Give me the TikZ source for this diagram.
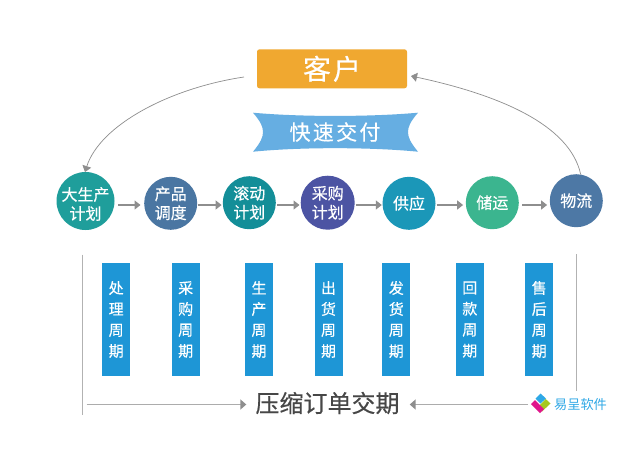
\documentclass[tikz,border=0pt]{standalone}
\usepackage{fontspec}
\setmainfont{Noto Sans CJK SC}[FakeBold=0.35]
\newfontfamily\thinfont{Noto Sans CJK SC}
\usetikzlibrary{arrows.meta,calc}
\definecolor{cgray}{HTML}{8E8E8E}
\definecolor{barblue}{HTML}{1E96D6}
\definecolor{custor}{HTML}{F0A830}
\definecolor{ribb}{HTML}{66AEE2}
\definecolor{c1}{HTML}{1F9E9B}\definecolor{c2}{HTML}{4A76A2}\definecolor{c3}{HTML}{138E98}
\definecolor{c4}{HTML}{4C54A3}\definecolor{c5}{HTML}{1B97B8}\definecolor{c6}{HTML}{3BB58F}\definecolor{c7}{HTML}{4D78A5}
\definecolor{logoblue}{HTML}{2FA8E6}
\definecolor{logomag}{HTML}{E0168C}
\definecolor{logogreen}{HTML}{A5C81E}
\tikzset{
  x=1pt,y=-1pt,
  stage/.style={circle,inner sep=0pt,text=white,align=center,font=\fontsize{16}{19}\selectfont},
  period/.style={rectangle,fill=barblue,inner sep=0pt,minimum width=28pt,minimum height=112.5pt,text=white,align=center,font=\fontsize{15}{21}\selectfont},
  flow/.style={draw=cgray,line width=1.3pt,-{Triangle[length=6pt,width=9pt]}},
  loop/.style={draw=cgray,line width=0.7pt,-{Triangle[length=6pt,width=9pt]}},
  span/.style={draw=gray!65,line width=1.6pt,-{Triangle[length=6pt,width=10pt,color=cgray]}},
  rule/.style={draw=gray!60,line width=1.1pt},
}
\begin{document}
\begin{tikzpicture}
\useasboundingbox (0,0) rectangle (644,451);
\fill[white] (0,0) rectangle (644,451);
% customer
\node[rectangle,rounded corners=2.5pt,fill=custor,text=white,minimum width=150pt,minimum height=39pt,inner sep=0pt,font=\fontsize{28}{30}\selectfont] (cust) at (332,68.8) {客\hspace{2pt}户};
% ribbon
\fill[ribb] (253,112.7) .. controls (300,117) and (370,117) .. (418,112.7)
  .. controls (410,122) and (408,127) .. (408,132)
  .. controls (408,137) and (410,142) .. (418,151.7)
  .. controls (370,147) and (300,147) .. (253,151.7)
  .. controls (261,142) and (263,137) .. (263,132)
  .. controls (263,127) and (261,122) .. (253,112.7) -- cycle;
\node[text=white,inner sep=0pt,font=\fontsize{21}{24}\selectfont] (ribbon) at (335,132) {快\hspace{2.3pt}速\hspace{2.3pt}交\hspace{2.3pt}付};
% stages
\node[stage,fill=c1,minimum size=58pt] (s1) at (85.5,201) {};
\node[stage] (s1t) at (85.5,204) {大生产\\计划};
\node[stage,fill=c2,minimum size=53pt] (s2) at (170.7,203.3) {产品\\调度};
\node[stage,fill=c3,minimum size=53pt] (s3) at (249.3,202.7) {滚动\\计划};
\node[stage,fill=c4,minimum size=54pt] (s4) at (327.7,202.7) {采购\\计划};
\node[stage,fill=c5,minimum size=53pt] (s5) at (409,203.3) {供应};
\node[stage,fill=c6,minimum size=53pt] (s6) at (492.3,202.7) {储运};
\node[stage,fill=c7,minimum size=53pt] (s7) at (576.3,200.7) {物流};
\coordinate (row) at (0,205);
\draw[flow,shorten <=3.5pt,shorten >=3.5pt] (s1.east |- row) -- (s2.west |- row);
\draw[flow,shorten <=1pt,shorten >=1pt] (s2.east |- row) -- (s3.west |- row);
\draw[flow,shorten <=1pt,shorten >=1pt] (s3.east |- row) -- (s4.west |- row);
\draw[flow,shorten <=1pt,shorten >=0.5pt] (s4.east |- row) -- (s5.west |- row);
\draw[flow,shorten <=1pt,shorten >=2.5pt] (s5.east |- row) -- (s6.west |- row);
\draw[flow,shorten <=3pt,shorten >=2.5pt] (s6.east |- row) -- (s7.west |- row);
% feedback curves
\coordinate (lstart) at (244,77);
\coordinate (rstart) at (580.7,174.5);
\coordinate (rend) at (411,76);
\coordinate (ltip) at (85,172);
\draw[loop] (lstart) .. controls (170,88) and (100,125) .. (ltip);
\draw[loop] (rstart) .. controls (570,125) and (500,95) .. (rend);
% periods
\node[period] (p1) at (116.2,319.5) {处\\理\\周\\期};
\node[period] (p2) at (185.7,319.5) {采\\购\\周\\期};
\node[period] (p3) at (259,319.5) {生\\产\\周\\期};
\node[period] (p4) at (328.5,319.5) {出\\货\\周\\期};
\node[period] (p5) at (396.3,319.5) {发\\货\\周\\期};
\node[period] (p6) at (469.8,319.5) {回\\款\\周\\期};
\node[period] (p7) at (539.2,319.5) {售\\后\\周\\期};
% frame rules
\coordinate (la) at (82.7,254.5);\coordinate (lb) at (82.7,415);
\coordinate (ra) at (576.7,254);\coordinate (rb) at (576.7,390.5);
\draw[rule] (la) -- (lb);
\draw[rule] (ra) -- (rb);
% bottom
\node[text=black!72,inner sep=0pt,font=\fontsize{24}{26}\selectfont] (total) at (327.5,403) {压缩订单交期};
\coordinate (sl) at (86.5,404.5);\coordinate (sr) at (528,404.5);
\draw[span,shorten >=9pt] (sl) -- (total.west |- sl);
\draw[span,shorten >=10pt] (sr) -- (total.east |- sr);
% logo
\fill[logogreen] (545.7,399) -- (550.5,403.5) -- (542,411.5) -- (538,407) -- cycle;
\fill[logomag] (531,404) -- (535,400) -- (544,409) -- (540,413) -- cycle;
\fill[logoblue] (540.5,393.5) -- (546,398.5) -- (540.5,403.5) -- (535.5,398.5) -- cycle;
\node[text=logoblue,inner sep=0pt,font=\thinfont\fontsize{13.2}{15}\selectfont] (logo) at (580.5,404) {易呈软件};
\end{tikzpicture}
\end{document}
